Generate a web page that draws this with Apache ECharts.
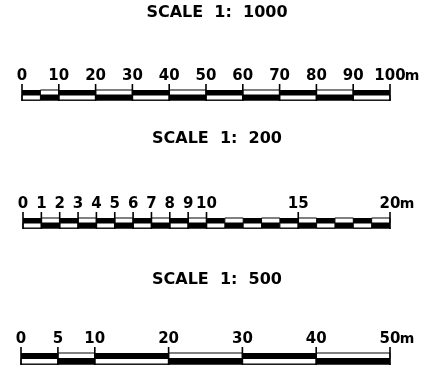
<!DOCTYPE html>
<html>
<head>
<meta charset="utf-8">
<script src="https://cdn.jsdelivr.net/npm/echarts@6/dist/echarts.min.js"></script>
<style>
	html, body { margin: 0; background: #fff; }
	#chart { width: 445px; height: 370px; }
</style>
</head>
<body>
<div id="chart"></div>
<script>
	// three scale bars, top to bottom
	var titles = ["SCALE  1:  1000", "SCALE  1:  200", "SCALE  1:  500"];
	var maxValues = [100, 20, 50];
	var ticks1000 = [0, 10, 20, 30, 40, 50, 60, 70, 80, 90, 100];
	var ticks200 = [0, 1, 2, 3, 4, 5, 6, 7, 8, 9, 10, 15, 20];
	var ticks500 = [0, 5, 10, 20, 30, 40, 50];
	// [from, to, filled row] - 0 = upper strip black, 1 = lower strip black
	var segments1000 = [[0, 5, 0], [5, 10, 1], [10, 20, 0], [20, 30, 1], [30, 40, 0], [40, 50, 1],
		[50, 60, 0], [60, 70, 1], [70, 80, 0], [80, 90, 1], [90, 100, 0]];
	var segments200 = [[0, 1, 0], [1, 2, 1], [2, 3, 0], [3, 4, 1], [4, 5, 0], [5, 6, 1], [6, 7, 0],
		[7, 8, 1], [8, 9, 0], [9, 10, 1], [10, 11, 0], [11, 12, 1], [12, 13, 0], [13, 14, 1],
		[14, 15, 0], [15, 16, 1], [16, 17, 0], [17, 18, 1], [18, 19, 0], [19, 20, 1]];
	var segments500 = [[0, 5, 0], [5, 10, 1], [10, 20, 0], [20, 30, 1], [30, 40, 0], [40, 50, 1]];

	var tickSets = [ticks1000, ticks200, ticks500];
	var segmentSets = [segments1000, segments200, segments500];

	var font = "DejaVu Sans";
	var gridTops = [90, 218, 353];
	var gridLefts = [22, 23, 21];
	var titleTops = [5, 131, 272];

	function renderSegment(params, api) {
		var x0 = api.value(0), x1 = api.value(1), row = api.value(2);
		var tl = api.coord([x0, 2]);
		var br = api.coord([x1, 0]);
		var mid = api.coord([x0, 1])[1];
		var w = br[0] - tl[0];
		var h = mid - tl[1];
		var blackY = row === 0 ? tl[1] : mid;
		var whiteY = row === 0 ? mid : tl[1];
		return {
			type: "group",
			children: [
				{ type: "rect", shape: { x: tl[0], y: whiteY, width: w, height: br[1] - mid }, style: { fill: "#fff", stroke: "#000", lineWidth: 1 } },
				{ type: "rect", shape: { x: tl[0], y: blackY, width: w, height: h }, style: { fill: "#000" } }
			]
		};
	}

	// division marks: from just under the bar up to the labels
	function renderTick(params, api) {
		var top = api.coord([api.value(0), 2]);
		var bottom = api.coord([api.value(0), 0]);
		return {
			type: "line",
			shape: { x1: top[0], y1: top[1] - 6, x2: top[0], y2: bottom[1] + 1 },
			style: { stroke: "#000", lineWidth: 1.6 }
		};
	}

	var grids = [], xAxes = [], yAxes = [], series = [], graphics = [];
	for (var i = 0; i < 3; i++) {
		(function(i) {
			var max = maxValues[i];
			grids.push({ left: gridLefts[i], right: 55, top: gridTops[i], height: i === 2 ? 11 : 10 });
			xAxes.push({
				gridIndex: i,
				type: "value",
				min: 0,
				max: max,
				position: "top",
				axisLine: { show: true, lineStyle: { color: "#000", width: 1.5 } },
				axisTick: { show: false },
				axisLabel: {
					customValues: tickSets[i],
					margin: 6,
					color: "#000",
					formatter: function(v) {
						return v === max ? "{p|}{n|" + v + "}{u|m}" : "{n|" + v + "}";
					},
					rich: {
						n: { fontFamily: font, fontSize: 15, fontWeight: "bold", color: "#000" },
						p: { width: 13 },
						u: { fontFamily: font, fontSize: 14, fontWeight: "bold", color: "#000", width: 13, align: "left" }
					}
				},
				splitLine: { show: false }
			});
			yAxes.push({ gridIndex: i, type: "value", min: 0, max: 2, show: false });
			series.push({
				type: "custom",
				xAxisIndex: i,
				yAxisIndex: i,
				renderItem: renderSegment,
				data: segmentSets[i],
				silent: true
			});
			series.push({
				type: "custom",
				xAxisIndex: i,
				yAxisIndex: i,
				renderItem: renderTick,
				data: tickSets[i].map(function(v) { return [v]; }),
				clip: false,
				silent: true,
				z: 3
			});
			graphics.push({
				type: "text",
				x: 217,
				y: titleTops[i],
				style: { text: titles[i], fill: "#000", font: "bold 16px 'DejaVu Sans'", textAlign: "center" }
			});
		})(i);
	}

	var chart = echarts.init(document.getElementById("chart"));
	chart.setOption({
		animation: false,
		grid: grids,
		xAxis: xAxes,
		yAxis: yAxes,
		series: series,
		graphic: graphics
	});
</script>
</body>
</html>
